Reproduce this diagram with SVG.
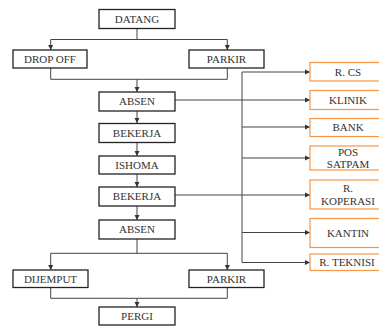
<svg xmlns="http://www.w3.org/2000/svg" width="379" height="329" viewBox="0 0 379 329">
<defs>
<marker id="ah" markerWidth="6" markerHeight="6" refX="5" refY="3" orient="auto" markerUnits="userSpaceOnUse">
<path d="M0,0.5 L5,3 L0,5.5 z" fill="#333"/>
</marker>
<style>
.b{fill:#fff;stroke:#222;stroke-width:1.3}
.o{fill:#fff;stroke:#f79646;stroke-width:1.2}
.t{font-family:'Liberation Serif','Times New Roman','DejaVu Serif',serif;font-size:11px;fill:#333;text-anchor:middle}
.c{fill:none;stroke:#444;stroke-width:1}
</style>
</defs>
<rect width="379" height="329" fill="#fff"/>
<g id="connectors">
<path class="c" d="M137,28.5 V39.5 M50.7,39.5 H227.3"/>
<path class="c" d="M50.7,39.5 V50" marker-end="url(#ah)"/>
<path class="c" d="M227.3,39.5 V50" marker-end="url(#ah)"/>
<path class="c" d="M50.7,68 V79.3 H227.3 V68"/>
<path class="c" d="M137,79.3 V92" marker-end="url(#ah)"/>
<path class="c" d="M137,111 V123" marker-end="url(#ah)"/>
<path class="c" d="M137,142 V156" marker-end="url(#ah)"/>
<path class="c" d="M137,174 V187" marker-end="url(#ah)"/>
<path class="c" d="M137,206 V220" marker-end="url(#ah)"/>
<path class="c" d="M137,239 V253.3 M50.7,253.3 H227.3"/>
<path class="c" d="M50.7,253.3 V270" marker-end="url(#ah)"/>
<path class="c" d="M227.3,253.3 V270" marker-end="url(#ah)"/>
<path class="c" d="M50.7,287 V298.3 H227.3 V287"/>
<path class="c" d="M137,298.3 V307" marker-end="url(#ah)"/>
<path class="c" d="M242,72 V262.5"/>
<path class="c" d="M242,72 H310" marker-end="url(#ah)"/>
<path class="c" d="M175,100 H310" marker-end="url(#ah)"/>
<path class="c" d="M242,127 H310" marker-end="url(#ah)"/>
<path class="c" d="M242,158 H310" marker-end="url(#ah)"/>
<path class="c" d="M175,195 H310" marker-end="url(#ah)"/>
<path class="c" d="M242,232.5 H310" marker-end="url(#ah)"/>
<path class="c" d="M242,262.5 H310" marker-end="url(#ah)"/>
</g>
<g id="datang"><rect class="b" x="99" y="9.5" width="76" height="19"/><text class="t" x="137" y="22.7">DATANG</text></g>
<g id="dropoff"><rect class="b" x="13" y="50" width="74" height="18"/><text class="t" x="50" y="62.7">DROP OFF</text></g>
<g id="parkir1"><rect class="b" x="189" y="50" width="75" height="18"/><text class="t" x="226.5" y="62.7">PARKIR</text></g>
<g id="absen1"><rect class="b" x="99" y="92" width="76" height="19"/><text class="t" x="137" y="105.2">ABSEN</text></g>
<g id="bekerja1"><rect class="b" x="99" y="123.5" width="76" height="19"/><text class="t" x="137" y="136.7">BEKERJA</text></g>
<g id="ishoma"><rect class="b" x="99" y="156" width="76" height="18"/><text class="t" x="137" y="168.7">ISHOMA</text></g>
<g id="bekerja2"><rect class="b" x="99" y="187" width="76" height="19"/><text class="t" x="137" y="200.2">BEKERJA</text></g>
<g id="absen2"><rect class="b" x="99" y="220" width="76" height="19"/><text class="t" x="137" y="233.2">ABSEN</text></g>
<g id="dijemput"><rect class="b" x="13" y="270" width="75" height="17.5"/><text class="t" x="50.5" y="282.7">DIJEMPUT</text></g>
<g id="parkir2"><rect class="b" x="189" y="270" width="75" height="17.5"/><text class="t" x="226.5" y="282.7">PARKIR</text></g>
<g id="pergi"><rect class="b" x="99" y="307" width="76" height="18"/><text class="t" x="137" y="319.7">PERGI</text></g>
<g id="rcs"><rect class="o" x="310" y="62.5" width="74" height="18.5"/><text class="t" x="348" y="75.7">R. CS</text></g>
<g id="klinik"><rect class="o" x="310" y="90.5" width="74" height="19"/><text class="t" x="348" y="103.7">KLINIK</text></g>
<g id="bank"><rect class="o" x="310" y="118.5" width="74" height="18"/><text class="t" x="348" y="131.2">BANK</text></g>
<g id="pos"><rect class="o" x="310" y="146" width="74" height="24"/><text class="t" x="348" y="155.5">POS</text><text class="t" x="348" y="167.5">SATPAM</text></g>
<g id="koperasi"><rect class="o" x="310" y="180" width="74" height="29"/><text class="t" x="348" y="191.8">R.</text><text class="t" x="348" y="205">KOPERASI</text></g>
<g id="kantin"><rect class="o" x="310" y="218.5" width="74" height="29"/><text class="t" x="348" y="236.5">KANTIN</text></g>
<g id="rteknisi"><rect class="o" x="310" y="254" width="74" height="16.5"/><text class="t" x="347" y="266.3">R. TEKNISI</text></g>
</svg>
